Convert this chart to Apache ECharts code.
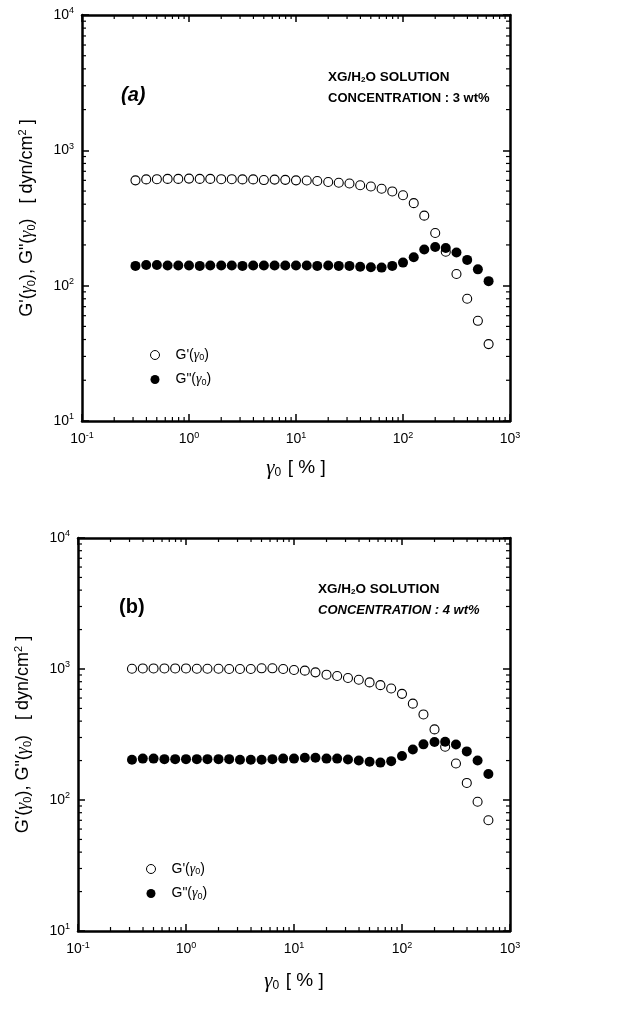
<!DOCTYPE html>
<html>
<head>
<meta charset="utf-8">
<script src="https://cdn.jsdelivr.net/npm/echarts@6/dist/echarts.min.js"></script>
<style>
  html, body { margin: 0; padding: 0; background: #fff; }
  #chart { width: 624px; height: 1010px; }
</style>
</head>
<body>
<div id="chart"></div>
<script>
// strain amplitude γ0 [%] (10 points / decade)
const strain = [0.316, 0.398, 0.501, 0.631, 0.794, 1.0, 1.26, 1.58, 2.0, 2.51,
  3.16, 3.98, 5.01, 6.31, 7.94, 10, 12.6, 15.8, 20, 25.1,
  31.6, 39.8, 50.1, 63.1, 79.4, 100, 126, 158, 200, 251,
  316, 398, 501, 631]

// (a) 3 wt%
const gStorage3 = [600, 610, 612, 615, 615, 618, 615, 615, 612, 612, 610,
  610, 603, 608, 605, 600, 598, 593, 583, 576, 569, 552, 540, 520, 497, 466, 407, 329, 245,
  178, 122, 80, 55, 37]
const gLoss3 = [140, 142, 142, 141, 141, 141, 140, 141, 141, 141, 140,
  141, 141, 141, 141, 141, 141, 140, 141, 140, 140,
  138, 137, 136, 140, 148, 162, 185, 193,
  190, 176, 155, 132, 108]

// (b) 4 wt%
const gStorage4 = [1005, 1010, 1010, 1010, 1010, 1010, 1005, 1005, 1005, 1000, 1000,
  1000, 1012, 1012, 1000, 982, 971, 943, 905, 884, 853, 828, 790, 753, 710, 646, 544, 450, 346,
  255, 190, 135, 97, 70]
const gLoss4 = [203, 207, 207, 205, 205, 205, 205, 205, 205, 205, 203,
  203, 203, 205, 207, 207, 210, 210, 207, 207, 204, 200, 196, 193, 198, 217, 243, 266, 277,
  278, 265, 235, 200, 158]

const xRange = [0.1, 1000]
const yRange = [10, 10000]
const panelTags = ['(a)', '(b)']
const concLabels = ['CONCENTRATION : 3 wt%', 'CONCENTRATION : 4 wt%']

// minor tick positions (2..9 x 10^n)
const minorX = []
for (let n = -1; n < 3; n++) for (let m = 2; m <= 9; m++) minorX.push(+(m * Math.pow(10, n)).toPrecision(3))
const minorY = []
for (let n = 1; n < 4; n++) for (let m = 2; m <= 9; m++) minorY.push(m * Math.pow(10, n))

const chart = echarts.init(document.getElementById('chart'))

const FONT = 'Liberation Sans'
const INK = '#000'
const supRich = {
  b: { fontSize: 14, fontFamily: FONT, color: INK },
  s: { fontSize: 9, fontFamily: FONT, color: INK, padding: [0, 0, 8, 0] }
}
const powLabel = v => '{b|10}{s|' + Math.round(Math.log10(v)) + '}'

const grids = [
  { left: 82, top: 15, width: 428, height: 406 },
  { left: 78, top: 538, width: 432, height: 393 }
]

const frameLine = { show: true, lineStyle: { color: INK, width: 2.5 } }
const majorTick = { show: true, inside: true, length: 7, lineStyle: { color: INK, width: 1.5 } }

const xAxes = [], yAxes = [], series = [], legends = []

grids.forEach((g, i) => {
  xAxes.push({
    type: 'log', logBase: 10, gridIndex: i, min: xRange[0], max: xRange[1],
    axisLine: frameLine, axisTick: majorTick, splitLine: { show: false },
    axisLabel: { formatter: powLabel, rich: supRich, margin: 10 },
    name: '{g|γ}{z|0}  {t|[ % ]}', nameLocation: 'middle', nameGap: i === 0 ? 36 : 39,
    nameTextStyle: {
      rich: {
        g: { fontFamily: 'Liberation Serif', fontStyle: 'italic', fontSize: 21, color: INK },
        z: { fontFamily: FONT, fontSize: 12, color: INK, padding: [10, 0, 0, 0] },
        t: { fontFamily: FONT, fontSize: 19, color: INK }
      }
    }
  })
  xAxes.push({
    type: 'log', logBase: 10, gridIndex: i, position: 'top', min: xRange[0], max: xRange[1],
    axisLine: frameLine, axisTick: majorTick, axisLabel: { show: false }, splitLine: { show: false }
  })
  yAxes.push({
    type: 'log', logBase: 10, gridIndex: i, min: yRange[0], max: yRange[1],
    axisLine: frameLine, axisTick: majorTick, splitLine: { show: false },
    axisLabel: { formatter: powLabel, rich: supRich, margin: 8 },
    name: "G'(" + '{g|γ}{z|0}), G"(' + '{g|γ}{z|0})   [ dyn/cm{p|2} ]',
    nameLocation: 'middle', nameRotate: 90, nameGap: 44,
    nameTextStyle: {
      fontFamily: FONT, fontSize: 18, color: INK,
      rich: {
        g: { fontFamily: 'Liberation Serif', fontStyle: 'italic', fontSize: 18, color: INK },
        z: { fontFamily: FONT, fontSize: 11, color: INK, padding: [8, 0, 0, 0] },
        p: { fontFamily: FONT, fontSize: 11, color: INK, padding: [0, 0, 10, 0] }
      }
    }
  })
  yAxes.push({
    type: 'log', logBase: 10, gridIndex: i, position: 'right', min: yRange[0], max: yRange[1],
    axisLine: frameLine, axisTick: majorTick, axisLabel: { show: false }, splitLine: { show: false }
  })
})

const panels = [
  { gs: gStorage3, gl: gLoss3 },
  { gs: gStorage4, gl: gLoss4 }
]

panels.forEach((p, i) => {
  const xi = i * 2, yi = i * 2
  const nS = 'Gs' + i, nL = 'Gl' + i
  series.push({
    name: nS, type: 'scatter', xAxisIndex: xi, yAxisIndex: yi,
    symbol: 'circle', symbolSize: 9,
    itemStyle: { color: '#fff', borderColor: INK, borderWidth: 1.1, opacity: 1 },
    data: strain.map((x, k) => [x, p.gs[k]])
  })
  series.push({
    name: nL, type: 'scatter', xAxisIndex: xi, yAxisIndex: yi,
    symbol: 'circle', symbolSize: 10,
    itemStyle: { color: INK, borderWidth: 0, opacity: 1 },
    data: strain.map((x, k) => [x, p.gl[k]])
  })
  // minor ticks on all four sides
  series.push({
    type: 'custom', xAxisIndex: xi, yAxisIndex: yi, silent: true,
    data: minorX.map(v => [v, yRange[0], 0]).concat(minorY.map(v => [xRange[0], v, 1])),
    renderItem: (params, api) => {
      const kind = api.value(2)
      const st = { stroke: INK, lineWidth: 1.2 }
      if (kind === 0) {
        const b = api.coord([api.value(0), yRange[0]])
        const t = api.coord([api.value(0), yRange[1]])
        return { type: 'group', children: [
          { type: 'line', shape: { x1: b[0], y1: b[1], x2: b[0], y2: b[1] - 4 }, style: st },
          { type: 'line', shape: { x1: t[0], y1: t[1], x2: t[0], y2: t[1] + 4 }, style: st }
        ] }
      }
      const l = api.coord([xRange[0], api.value(1)])
      const r = api.coord([xRange[1], api.value(1)])
      return { type: 'group', children: [
        { type: 'line', shape: { x1: l[0], y1: l[1], x2: l[0] + 4, y2: l[1] }, style: st },
        { type: 'line', shape: { x1: r[0], y1: r[1], x2: r[0] - 4, y2: r[1] }, style: st }
      ] }
    }
  })
  legends.push({
    data: [nS, nL], orient: 'vertical',
    left: grids[i].left + 63, top: i === 0 ? 343 : 857,
    itemWidth: 9, itemHeight: 9, itemGap: 10, icon: 'circle',
    itemStyle: { borderWidth: 1 },
    selectedMode: false,
    formatter: n => (n.indexOf('Gs') === 0 ? "G'(" : 'G"(') + '{g|γ}{z|0})',
    textStyle: {
      fontFamily: FONT, fontSize: 14, color: INK, padding: [0, 0, 0, 11],
      rich: {
        g: { fontFamily: 'Liberation Serif', fontStyle: 'italic', fontSize: 14, color: INK },
        z: { fontFamily: FONT, fontSize: 9, color: INK, padding: [6, 0, 0, 0] }
      }
    }
  })
})

const subRich = { k: { fontFamily: FONT, fontWeight: 'bold', fontSize: 8, fill: INK, padding: [5, 0, 0, 0] } }

const graphics = []
panelTags.forEach((tag, i) => {
  const top = i === 0 ? 0 : 512
  graphics.push({
    type: 'text', left: i === 0 ? 121 : 119, top: top + 85,
    style: { text: tag, fontFamily: FONT, fontWeight: 'bold', fontStyle: i === 0 ? 'italic' : 'normal', fontSize: 20, fill: INK }
  })
  graphics.push({
    type: 'text', left: i === 0 ? 328 : 318, top: top + 70,
    style: { text: 'XG/H{k|2}O SOLUTION', rich: subRich, fontFamily: FONT, fontWeight: 'bold', fontSize: 13.5, fill: INK }
  })
  graphics.push({
    type: 'text', left: i === 0 ? 328 : 318, top: top + 92,
    style: { text: concLabels[i], fontFamily: FONT, fontWeight: 'bold', fontStyle: i === 0 ? 'normal' : 'italic', fontSize: 13, fill: INK }
  })
})

chart.setOption({
  animation: false,
  grid: grids,
  xAxis: xAxes,
  yAxis: yAxes,
  legend: legends,
  series: series,
  graphic: graphics
})
</script>
</body>
</html>
